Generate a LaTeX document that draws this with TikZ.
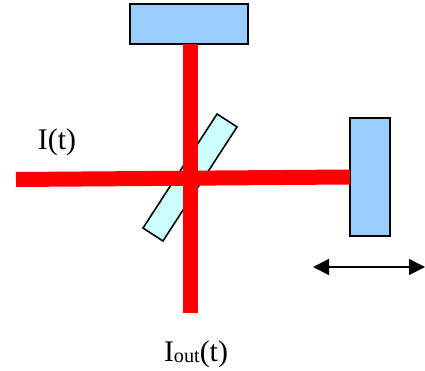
\documentclass[tikz,border=0pt]{standalone}
\usepackage{fontspec}
\setmainfont{Liberation Serif}
\usepackage{tikz}
\usetikzlibrary{positioning, arrows.meta}
\definecolor{mirrorblue}{HTML}{99CCFF}
\definecolor{splittercyan}{HTML}{CCFFFF}
\definecolor{beamred}{HTML}{FF0000}

\begin{document}
\begin{tikzpicture}[
    mirror/.style={
        rectangle, draw=black, fill=mirrorblue, line width=1pt,
        minimum width=2.36cm, minimum height=0.8cm, inner sep=0pt, outer sep=0pt
    },
    splitter/.style={
        rectangle, draw=black, fill=splittercyan, line width=0.9pt,
        minimum width=2.72cm, minimum height=0.476cm, inner sep=0pt, outer sep=0pt,
        rotate=57
    },
    beam/.style={line width=0.3cm, color=beamred},
    arr/.style={{Triangle[length=0.32cm, width=0.32cm]}-{Triangle[length=0.32cm, width=0.32cm]}, line width=0.85pt, color=black},
    lbl/.style={font=\fontsize{17}{20}\selectfont, anchor=base, inner sep=0pt},
]
\useasboundingbox (0,0) rectangle (8.5,7.4);

% Beam splitter and mirrors
\node[splitter] (split) at (3.8,3.85) {};
\node[mirror] (topmirror) at (3.78,6.92) {};
\node[mirror, minimum width=0.8cm, minimum height=2.36cm] (endmirror) at (7.4,3.86) {};

% Beam ends
\coordinate (beamin) at (0.32,3.81);
\coordinate (beamout) at (3.8,1.14);
\coordinate (travelleft) at (6.26,2.06);
\coordinate (travelright) at (8.5,2.06);

% Beams
\draw[beam] (beamin) -- (endmirror.west);
\draw[beam] (topmirror.south -| beamout) -- (beamout);

% Labels
\node[lbl] (inlabel) at (1.14,4.4) {I(t)};
\node[lbl] (outlabel) at (3.92,0.166) {I\raisebox{-0.6pt}{\fontsize{11.5}{13}\selectfont out}(t)};

% Mirror travel
\draw[arr] (travelleft) -- (travelright);

\end{tikzpicture}
\end{document}
